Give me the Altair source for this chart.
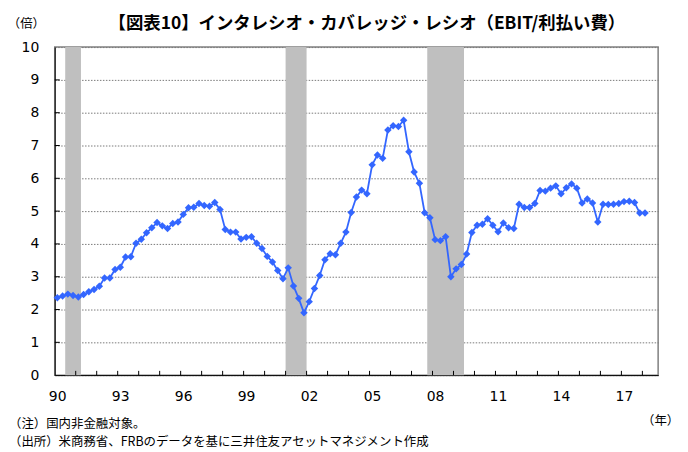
import altair as alt
import pandas as pd

# Quarterly interest coverage ratio (EBIT / interest expense), 1990Q1 - 2018Q1
values = [
    2.36, 2.41, 2.47, 2.43, 2.38, 2.46, 2.54, 2.61, 2.71, 2.96,
    2.96, 3.22, 3.29, 3.60, 3.61, 4.02, 4.14, 4.34, 4.49, 4.65,
    4.55, 4.47, 4.62, 4.67, 4.90, 5.10, 5.12, 5.23, 5.17, 5.15,
    5.26, 5.05, 4.44, 4.36, 4.36, 4.15, 4.20, 4.22, 4.02, 3.86,
    3.62, 3.45, 3.19, 2.94, 3.27, 2.72, 2.34, 1.90, 2.24, 2.64,
    3.04, 3.52, 3.70, 3.67, 4.02, 4.36, 4.96, 5.43, 5.64, 5.53,
    6.41, 6.71, 6.61, 7.47, 7.60, 7.58, 7.77, 6.81, 6.19, 5.85,
    4.95, 4.80, 4.13, 4.10, 4.22, 3.00, 3.24, 3.37, 3.69, 4.35,
    4.57, 4.60, 4.77, 4.57, 4.37, 4.64, 4.49, 4.47, 5.21, 5.11,
    5.11, 5.23, 5.63, 5.61, 5.70, 5.77, 5.53, 5.71, 5.83, 5.70,
    5.25, 5.37, 5.25, 4.67, 5.21, 5.20, 5.21, 5.23, 5.29, 5.30,
    5.26, 4.94, 4.94,
]
start_year = 1990
n_categories = 115  # axis runs to 2018Q3

# Recession shading (NBER), in year units (quarter edges)
rec_start = [1990.5, 2001.0, 2007.75]
rec_end = [1991.25, 2002.0, 2009.5]

x_tick_years = list(range(1991, 2019))
label_years = list(range(1990, 2019))
y_values = list(range(0, 11))
y_tick_values = list(range(1, 10))

title_text = ["【図表10】インタレシオ・カバレッジ・レシオ（EBIT/利払い費）"]
y_unit = "（倍）"
x_unit = "（年）"
footnote_1 = ["（注）国内非金融対象。"]
footnote_2 = ["（出所）米商務省、FRBのデータを基に三井住友アセットマネジメント作成"]

blue = "#3366FF"
gray_shade = "#BFBFBF"
jp_font = "Noto Sans CJK JP"
num_font = "DejaVu Sans"

x_min = start_year
x_max = start_year + n_categories / 4

df = pd.DataFrame({
    "t": [start_year + (i + 0.5) / 4 for i in range(len(values))],
    "v": values,
})
rec_df = pd.DataFrame({"s": rec_start, "e": rec_end, "y0": 0, "y1": 10})
xt_df = pd.DataFrame({"t": x_tick_years, "y0": 0.0, "y1": 0.13})
yt_df = pd.DataFrame({"v": y_tick_values, "x0": float(x_min), "x1": x_min + 0.24})
fn1_df = pd.DataFrame({"txt": footnote_1})
fn2_df = pd.DataFrame({"txt": footnote_2})
title_df = pd.DataFrame({"txt": title_text})

xscale = alt.Scale(domain=[x_min, x_max], nice=False, zero=False)
yscale = alt.Scale(domain=[0, 10], nice=False, zero=True)

xaxis = alt.Axis(
    values=label_years,
    labelExpr="(datum.value - 1990) % 3 == 0 ? substring(toString(datum.value), 2, 4) : ''",
    ticks=False, tickSize=0, grid=False,
    labelFont=num_font, labelFontSize=14, labelColor="#000000",
    labelPadding=15, labelOffset=2.5, labelFlush=False, labelOverlap=False,
    domainColor="#000000", domainWidth=1,
    title=x_unit, titleFont=jp_font, titleFontSize=12.5, titleFontWeight="normal",
    titleColor="#000000", titleAngle=0, titleX=609, titleY=46,
    titleAlign="center", titleBaseline="middle",
)
yaxis = alt.Axis(
    values=y_values, ticks=False, tickSize=0,
    grid=True, gridColor="#7a7a7a", gridDash=[1.5, 1.5], gridWidth=1,
    labelFont=num_font, labelFontSize=14, labelColor="#000000", labelPadding=16,
    domainColor="#000000", domainWidth=1,
    title=y_unit, titleFont=jp_font, titleFontSize=12.5, titleFontWeight="normal",
    titleColor="#000000", titleAngle=0, titleX=-29, titleY=-24,
    titleAlign="center", titleBaseline="middle",
)

shade = alt.Chart(rec_df).mark_rect(color=gray_shade).encode(
    x=alt.X("s:Q", scale=xscale, axis=xaxis),
    x2="e:Q",
    y=alt.Y("y0:Q", scale=yscale, axis=yaxis),
    y2="y1:Q",
)

line = alt.Chart(df).mark_line(
    color=blue, strokeWidth=1.8,
    point=alt.OverlayMarkDef(shape="diamond", size=56, filled=True, color=blue),
).encode(
    x=alt.X("t:Q", scale=xscale, axis=xaxis),
    y=alt.Y("v:Q", scale=yscale, axis=yaxis),
)

xticks = alt.Chart(xt_df).mark_rule(color="#000000", strokeWidth=1).encode(
    x=alt.X("t:Q", scale=xscale, axis=xaxis),
    y=alt.Y("y0:Q", scale=yscale, axis=yaxis),
    y2="y1:Q",
)

yticks = alt.Chart(yt_df).mark_rule(color="#000000", strokeWidth=1).encode(
    x=alt.X("x0:Q", scale=xscale, axis=xaxis),
    x2="x1:Q",
    y=alt.Y("v:Q", scale=yscale, axis=yaxis),
)

note_style = dict(align="left", baseline="middle", font=jp_font, fontSize=12.5,
                  color="#000000")
note1 = alt.Chart(fn1_df).mark_text(**note_style).encode(
    x=alt.value(-46), y=alt.value(379.5), text="txt:N",
)
note2 = alt.Chart(fn2_df).mark_text(**note_style).encode(
    x=alt.value(-46), y=alt.value(397.5), text="txt:N",
)

title = alt.Chart(title_df).mark_text(
    align="center", baseline="middle", font=jp_font, fontSize=17.5,
    fontWeight="bold", color="#000000",
).encode(
    x=alt.value(314), y=alt.value(-23), text="txt:N",
)

chart = alt.layer(shade, line, xticks, yticks, note1, note2, title).properties(
    width=607, height=330,
    autosize=alt.AutoSizeParams(type="none"),
    padding={"left": 47, "top": 38, "right": 22, "bottom": 76},
    background="#ffffff",
).configure_view(stroke="#808080", strokeWidth=1.5)

chart.save("out.html", embed_options={"renderer": "svg", "actions": False})
